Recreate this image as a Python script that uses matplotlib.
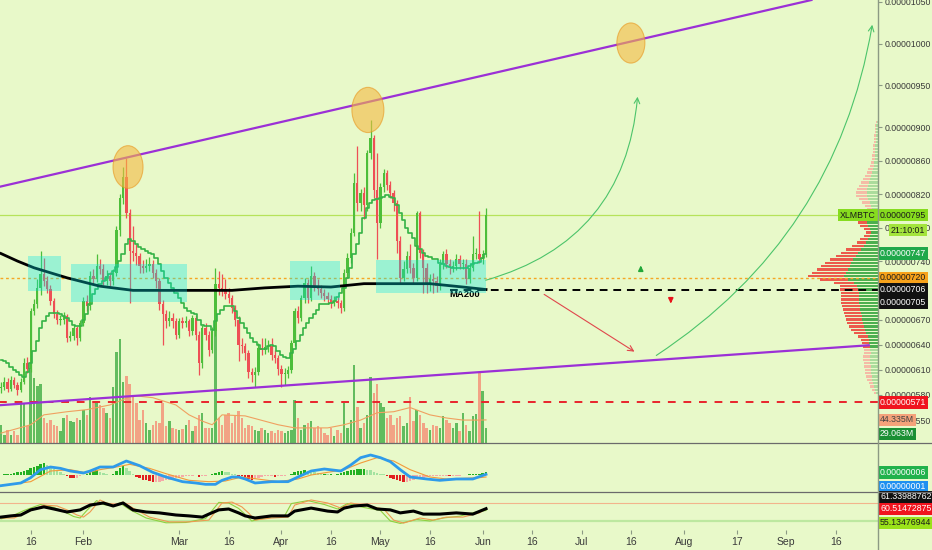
import numpy as np
import pandas as pd
import matplotlib
matplotlib.use("Agg")
import matplotlib.pyplot as plt
import matplotlib.dates as mdates
from matplotlib.patches import Ellipse, Rectangle
from matplotlib.lines import Line2D
from matplotlib.ticker import FuncFormatter

plt.rcParams['font.family'] = ['Liberation Sans', 'DejaVu Sans']

# XLM/BTC daily candles, satoshi units, 2020-01-07 .. 2020-06-02
first_open = 588
close = [590, 596, 587, 598, 592, 586, 596, 618, 611, 680,
         689, 708, 725, 716, 707, 692, 677, 670, 670, 674,
         648, 650, 660, 648, 666, 692, 686, 722, 719, 734,
         731, 716, 722, 716, 726, 777, 815, 840, 798, 752,
         750, 746, 734, 732, 734, 737, 726, 716, 689, 677,
         668, 672, 668, 652, 668, 666, 668, 656, 672, 652,
         618, 660, 652, 634, 656, 713, 708, 704, 701, 696,
         684, 670, 640, 638, 630, 608, 604, 608, 636, 634,
         637, 639, 628, 624, 611, 605, 605, 610, 642, 680,
         672, 696, 714, 696, 722, 710, 707, 702, 698, 695,
         690, 692, 690, 684, 726, 744, 774, 833, 809, 821,
         807, 869, 887, 825, 786, 828, 845, 831, 821, 809,
         764, 720, 731, 746, 732, 720, 798, 750, 732, 713,
         719, 716, 710, 737, 749, 737, 732, 734, 743, 737,
         737, 719, 732, 749, 749, 743, 749, 795]
high = [596, 601, 600, 603, 601, 595, 600, 624, 625, 684,
        695, 718, 752, 744, 722, 712, 696, 681, 676, 679,
        677, 656, 664, 663, 670, 697, 699, 728, 730, 748,
        742, 737, 729, 727, 731, 782, 820, 852, 863, 802,
        782, 761, 750, 741, 742, 745, 741, 730, 720, 694,
        681, 680, 678, 672, 672, 673, 674, 671, 676, 676,
        656, 664, 666, 657, 661, 732, 728, 725, 718, 708,
        700, 688, 674, 648, 642, 634, 612, 613, 642, 648,
        648, 646, 648, 634, 628, 616, 612, 615, 646, 684,
        686, 700, 720, 718, 734, 727, 718, 712, 707, 703,
        699, 698, 697, 694, 730, 750, 780, 845, 877, 826,
        828, 873, 909, 891, 869, 833, 850, 849, 836, 825,
        813, 770, 740, 752, 761, 738, 800, 800, 754, 738,
        724, 726, 722, 742, 752, 754, 742, 740, 748, 747,
        743, 742, 738, 770, 756, 800, 753, 803]
low = [582, 586, 583, 585, 588, 580, 583, 593, 606, 608,
       675, 684, 700, 710, 702, 688, 672, 665, 664, 665,
       643, 644, 646, 640, 644, 662, 680, 682, 713, 715,
       724, 711, 711, 710, 712, 722, 770, 808, 792, 690,
       740, 735, 726, 726, 727, 728, 720, 708, 682, 640,
       660, 662, 660, 647, 648, 660, 661, 650, 652, 646,
       604, 612, 646, 626, 630, 650, 700, 698, 695, 690,
       678, 663, 620, 630, 622, 600, 596, 590, 604, 628,
       629, 631, 622, 618, 604, 590, 592, 600, 606, 638,
       666, 668, 690, 690, 692, 704, 700, 696, 692, 689,
       684, 686, 684, 678, 680, 720, 738, 770, 800, 800,
       790, 800, 862, 815, 743, 780, 822, 825, 815, 800,
       750, 713, 716, 726, 726, 714, 716, 744, 702, 702,
       704, 702, 703, 705, 730, 732, 725, 727, 729, 731,
       730, 713, 714, 728, 742, 738, 736, 745]
# volume in millions
volume = [34, 15, 25, 15, 23, 15, 76, 76, 32, 143,
          124, 110, 114, 48, 38, 44, 34, 32, 23, 48,
          53, 42, 40, 48, 44, 63, 53, 89, 80, 80,
          72, 67, 57, 48, 108, 175, 200, 118, 129, 114,
          91, 76, 44, 63, 38, 25, 34, 42, 38, 76,
          32, 42, 29, 27, 25, 27, 34, 44, 23, 32,
          53, 57, 29, 29, 29, 219, 48, 34, 53, 57,
          38, 51, 61, 48, 29, 34, 32, 25, 23, 29,
          25, 19, 23, 19, 25, 23, 19, 23, 25, 82,
          48, 25, 34, 38, 42, 29, 32, 29, 19, 15,
          29, 13, 25, 19, 76, 29, 44, 150, 70, 29,
          38, 53, 127, 95, 114, 76, 70, 48, 53, 34,
          48, 51, 32, 38, 89, 42, 63, 53, 38, 29,
          25, 34, 32, 29, 51, 44, 38, 29, 38, 23,
          57, 34, 23, 51, 55, 135, 99, 29]
volma_idx = [0, 9, 13, 20, 26, 33, 40, 46, 53, 57, 61, 64, 67, 74, 84, 89, 99,
             104, 109, 114, 119, 124, 130, 135, 140, 145, 147]
volma_val = [19, 35, 54, 60, 64, 73, 91, 87, 73, 54, 42, 35, 54, 52, 35, 29, 29,
             35, 44, 58, 60, 68, 54, 48, 44, 44, 44.3]

# green trailing step line
step_line = [622, 620, 618, 614, 610, 608, 604, 602, 608, 618,
             632, 644, 660, 668, 674, 678, 678, 678, 677, 674,
             672, 668, 664, 662, 662, 670, 677, 689, 701, 707,
             713, 716, 720, 725, 728, 733, 740, 749, 761, 766,
             764, 761, 757, 755, 752, 750, 748, 744, 737, 728,
             720, 714, 708, 702, 696, 690, 684, 680, 678, 677,
             670, 664, 663, 662, 658, 668, 677, 682, 686, 686,
             686, 680, 672, 666, 660, 654, 648, 643, 640, 635,
             635, 638, 640, 638, 632, 628, 625, 624, 630, 635,
             644, 652, 660, 666, 672, 677, 682, 689, 689, 689,
             690, 692, 697, 702, 708, 720, 732, 749, 761, 774,
             791, 803, 810, 813, 814, 815, 816, 819, 817, 815,
             807, 797, 789, 780, 773, 767, 758, 755, 750, 746,
             745, 743, 742, 738, 737, 734, 733, 732, 732, 732,
             732, 732, 734, 737, 738, 739, 744, 749]
ma200_idx = [0, 5, 10, 20, 30, 40, 50, 60, 70, 80, 90, 100, 110, 120, 130, 140, 147]
ma200_val = [749, 740, 732, 720, 710, 705, 705, 705, 705, 708, 710, 709, 713, 713, 713, 709, 706]

# MACD pane (satoshi)
macd_idx = [0, 6, 9, 12, 15, 18, 21, 25, 27, 30, 34, 38, 42, 46, 50, 55, 59, 62, 65, 67, 70,
            72, 74, 77, 82, 87, 90, 94, 98, 103, 106, 109, 112, 115, 118, 121, 124, 129,
            133, 138, 143, 147]
macd_val = [-16, -12, -4, 8, 12, 10, 6, 3, 6, 12, 12, 21, 14, 4, -3, -10, -12, -14, -14, -8, -3,
            -3, -6, -12, -10, -10, -3, 6, 9, 6, 15, 26, 30, 26, 20, 8, -3, -6,
            -8, -6, -6, 1]
sig_idx = [0, 9, 15, 21, 26, 30, 35, 39, 45, 50, 57, 63, 68, 73, 84, 90, 94, 99, 104, 109,
           114, 119, 124, 130, 135, 145, 147]
sig_val = [-16, -10, 6, 8, 3, 8, 12, 16, 10, 2, -8, -10, -9, -3, -10, -6, 0, 4, 8, 18,
           26, 21, 8, -3, -6, -4, -3]
hist = [0.5, 1, 1, 2, 3, 4, 5, 6, 8, 10, 12, 14, 16, 18, 15, 12, 9, 6, 4, 2,
        -2, -4, -5, -4, -2, 0, 2, 4, 6, 7, 5, 3, 1, 0, 2, 6, 10, 14, 11, 6,
        2, -3, -5, -7, -8, -9, -10, -10, -10, -9, -8, -7, -6, -5, -4, -3, -2, -1, -1, 0,
        -3, -2, -1, 0, 1, 3, 5, 6, 5, 4, 2, 1, -1, -2, -4, -6, -7, -6, -4, -3,
        -2, -2, -1, -3, -2, -1, -1, 0, 2, 4, 6, 6, 7, 6, 5, 4, 3, 2, 2, 1,
        1, 0, 1, 3, 5, 6, 7, 8, 9, 9, 9, 8, 7, 5, 3, 2, 1, -2, -4, -6,
        -8, -9, -10, -10, -9, -8, -6, -5, -4, -3, -2, -2, -1, -1, -1, -1, -2, -1, -1, -1,
        0, 0, 1, 1, 2, 2, 3, 4]

# oscillator pane
rsi_idx = [0, 3, 6, 9, 13, 16, 20, 24, 27, 31, 34, 37, 40, 44, 48, 53, 57, 61, 63, 66, 69,
           72, 74, 77, 82, 87, 89, 94, 99, 102, 104, 107, 111, 114, 118, 121, 125, 128,
           133, 138, 143, 147]
rsi_val = [33, 37, 40, 57, 67, 60, 50, 57, 73, 80, 70, 80, 57, 50, 47, 40, 37, 33, 43, 57, 60,
           47, 37, 30, 37, 37, 53, 63, 53, 50, 63, 70, 73, 60, 57, 47, 53, 43,
           43, 47, 43, 61]
k_idx = [0, 4, 8, 13, 17, 20, 23, 25, 27, 30, 32, 35, 37, 40, 45, 51, 57, 63, 67, 70,
         73, 75, 77, 82, 87, 89, 94, 99, 103, 106, 111, 116, 119, 122, 127, 131, 135,
         140, 145, 147]
k_val = [30, 30, 50, 73, 70, 57, 40, 33, 50, 90, 80, 73, 83, 63, 33, 17, 17, 23, 80, 83,
         67, 47, 23, 30, 33, 73, 90, 80, 63, 80, 70, 60, 23, 13, 30, 23, 33,
         33, 47, 60.5]
d_idx = [0, 3, 7, 12, 16, 19, 22, 24, 26, 29, 31, 34, 36, 39, 44, 50, 56, 62, 66, 69,
         72, 74, 76, 81, 86, 88, 93, 98, 102, 105, 110, 115, 118, 121, 126, 130, 134,
         139, 144, 147]
d_val = [27, 35, 55, 75, 65, 52, 35, 30, 55, 88, 75, 70, 80, 58, 30, 14, 15, 28, 82, 80,
         62, 42, 20, 33, 38, 78, 88, 75, 60, 78, 65, 55, 20, 12, 25, 20, 30,
         36, 50, 55]

# visible range volume profile, 4 sat rows from 582 to 906
prof_price = np.arange(582, 907, 4)
prof_total = [4, 6, 8, 9, 11, 12, 13, 13, 14, 14, 15, 15, 14, 14, 15, 16, 17, 20, 24, 27,
              29, 31, 32, 33, 34, 35, 36, 37, 37, 37, 37, 38, 38, 44, 58, 70, 66, 61, 57, 53,
              48, 42, 37, 32, 26, 21, 18, 14, 12, 14, 18, 20, 17, 14, 12, 11, 13, 16, 19, 22,
              22, 21, 19, 17, 15, 13, 11, 10, 8, 7, 6, 6, 5, 5, 5, 4, 4, 4, 3, 3,
              3, 2]
prof_up = [2, 3, 4, 5, 6, 6, 7, 7, 7, 8, 8, 8, 7, 8, 8, 9, 9, 10, 12, 13,
           14, 15, 16, 16, 17, 18, 18, 19, 19, 19, 19, 20, 21, 24, 30, 34, 32, 30, 28, 27,
           25, 22, 20, 17, 14, 12, 10, 8, 7, 8, 10, 11, 9, 8, 7, 6, 7, 8, 10, 11,
           11, 11, 10, 9, 8, 7, 6, 5, 4, 4, 3, 3, 3, 3, 3, 2, 2, 2, 2, 2,
           2, 1]

tick_days = ['2020-01-16', '2020-02-01', '2020-03-01', '2020-03-16', '2020-04-01', '2020-04-16',
             '2020-05-01', '2020-05-16', '2020-06-01', '2020-06-16', '2020-07-01', '2020-07-16',
             '2020-08-01', '2020-08-17', '2020-09-01', '2020-09-16']
tick_text = ['16', 'Feb', 'Mar', '16', 'Apr', '16', 'May', '16', 'Jun', '16', 'Jul', '16',
             'Aug', '17', 'Sep', '16']
price_ticks = [550, 580, 610, 640, 670, 740, 780, 820, 860, 900, 950, 1000, 1050]

dates = pd.date_range('2020-01-07', periods=len(close), freq='D')
xs = mdates.date2num(dates)
t0 = xs[0]
opens = np.array([first_open] + close[:-1])
c = np.array(close)
up = c >= opens

bg = '#E8F9C9'
W, H = 932, 550
FS = 6.3


def pane(top, bottom, right=878):
    return [0, 1 - bottom / H, right / W, (bottom - top) / H]


fig = plt.figure(figsize=(W / 100, H / 100), dpi=100, facecolor=bg)
ax_v = fig.add_axes(pane(0, 443), zorder=1)
ax_p = fig.add_axes(pane(0, 443), zorder=2)
ax = fig.add_axes(pane(0, 443), zorder=3)
ax_m = fig.add_axes(pane(443, 492), zorder=3)
ax_s = fig.add_axes(pane(492, 530), zorder=3)
for a in (ax_v, ax_p, ax, ax_m, ax_s):
    a.patch.set_visible(False)
    for s in a.spines.values():
        s.set_visible(False)
    a.set_xlim(t0 - 0.3, t0 + 265.8)
ax_v.axis('off')
ax_p.axis('off')

# volume
ax_v.bar(xs, volume, width=0.75, color=np.where(up, '#62BC5E', '#F2A385'), linewidth=0)
ax_v.plot(t0 + np.array(volma_idx), volma_val, color='#F0A060', lw=0.8)
ax_v.set_ylim(0, 850)

# volume profile
ymin, ymax = 522.6, 1052.0
in_va = (prof_price >= 638) & (prof_price <= 790)
ax_p.barh(prof_price, prof_total, height=2.8, left=0,
          color=np.where(in_va, '#EC5A4C', '#F5BBA6'), linewidth=0)
ax_p.barh(prof_price, prof_up, height=2.8, left=0,
          color=np.where(in_va, '#4CAF50', '#ABDC9C'), linewidth=0)
ax_p.set_xlim(878, 0)
ax_p.set_ylim(ymin, ymax)

# main pane
ax.set_ylim(ymin, ymax)
ax.axhline(795, color='#B6E35A', lw=0.9, zorder=2)
ax.axhline(720, color='#F5A623', lw=1, ls=(0, (2, 2)), zorder=2)
ax.hlines(571, t0 - 1, t0 + 270, color='#E8242C', lw=1.4, ls=(0, (4, 4)), zorder=2)
ax.hlines(706, t0 + 136, t0 + 270, color='black', lw=1.4, ls=(0, (4, 3)), zorder=2)

col = np.where(up, '#4DBE3A', '#EE4F55')
ax.vlines(xs, low, high, colors=col, lw=0.9, zorder=3)
ax.bar(xs, np.maximum(np.abs(c - opens), 1.2), bottom=np.minimum(opens, c), width=0.7,
       color=col, linewidth=0, zorder=4)
ax.plot(xs, step_line, drawstyle='steps-mid', color='#34B346', lw=1.2, zorder=5)
ax.plot(t0 + np.array(ma200_idx), ma200_val, color='black', lw=2, zorder=5)
ax.text(t0 + 140.5, 700.5, 'MA200', fontsize=6.8, fontweight='bold',
        ha='center', va='center', zorder=6)

for d0, d1, p0, p1 in [(8.2, 18.2, 704, 746), (21.2, 56.4, 691, 736.5),
                       (87.6, 102.7, 693.5, 740), (113.6, 147, 702, 741)]:
    ax.add_patch(Rectangle((t0 + d0, p0), d1 - d0, p1 - p0, fc='#00E5E5', alpha=0.33,
                           ec='none', zorder=6))

ax.axline((t0 - 0.3, 828.9), (t0 + 242.1, 1048.8), color='#9B30D6', lw=1.6, zorder=6)
ax.plot([t0 - 1, t0 + 263], [567.6, 639.4], color='#9B30D6', lw=1.6, zorder=6)

for dx, py, w, h in [(38.5, 852.4, 9.1, 51), (111.2, 920.6, 9.7, 54), (190.9, 1000.6, 8.5, 48)]:
    ax.add_patch(Ellipse((t0 + dx, py), w, h, fc='#F5B942', alpha=0.6, ec='#E8961E',
                         lw=0.8, zorder=7))

ax.annotate('', xy=(t0 + 193, 939.7), xytext=(t0 + 146.1, 716.2),
            arrowprops=dict(arrowstyle='->', color='#4CC46A', lw=0.8,
                            connectionstyle='arc3,rad=0.35'), zorder=7)
ax.annotate('', xy=(t0 + 264.2, 1025.7), xytext=(t0 + 197.9, 625.4),
            arrowprops=dict(arrowstyle='->', color='#4CC46A', lw=0.8,
                            connectionstyle='arc3,rad=0.22'), zorder=7)
ax.annotate('', xy=(t0 + 192.7, 630), xytext=(t0 + 163.9, 702),
            arrowprops=dict(arrowstyle='->', color='#E0474C', lw=0.8), zorder=7)
ax.annotate('', xy=(t0 + 193.9, 738), xytext=(t0 + 193.9, 727),
            arrowprops=dict(arrowstyle='-|>', color='#22A83A', lw=1.2, mutation_scale=7), zorder=7)
ax.annotate('', xy=(t0 + 203, 686), xytext=(t0 + 203, 697),
            arrowprops=dict(arrowstyle='-|>', color='#E8141B', lw=1.2, mutation_scale=7), zorder=7)

ax.set_xticks([])
ax.yaxis.tick_right()
ax.set_yticks(price_ticks)
ax.yaxis.set_major_formatter(FuncFormatter(lambda v, _: f'{v * 1e-8:.8f}'))
ax.tick_params(axis='y', labelsize=FS, labelcolor='#3A3A3A', color='#8C9A84', length=3, pad=2)


def tag(a, y, text, fc, tc='white', dx=1.5, dy=0, trans=None, ha='left'):
    a.annotate(text, xy=(1, y), xycoords=trans or a.get_yaxis_transform(),
               xytext=(dx, dy), textcoords='offset points', ha=ha, va='center',
               fontsize=FS, color=tc, annotation_clip=False, zorder=10,
               bbox=dict(boxstyle='square,pad=0.2', fc=fc, ec='none'))


tag(ax, close[-1], 'XLMBTC', '#86DC1E', '#1A1A1A', dx=-1.5, ha='right')
tag(ax, close[-1], '0.00000795', '#86DC1E', '#1A1A1A')
tag(ax, close[-1], '21:10:01', '#A3E43C', '#1A1A1A', dx=9, dy=-10.8)
tag(ax, step_line[-1], '0.00000747', '#1FA84A')
tag(ax, 720, '0.00000720', '#F7A21B', '#1A1A1A')
tag(ax, 706, '0.00000706', '#111111')
tag(ax, ma200_val[-1], '0.00000705', '#111111', dy=-9.4)
tag(ax, 571, '0.00000571', '#F0141E')
tag(ax, volma_val[-1], '44.335M', '#F4A27A', '#444444', trans=ax_v.get_yaxis_transform())
tag(ax, volume[-1], '29.063M', '#1A8F34', dy=-4.3, trans=ax_v.get_yaxis_transform())

# MACD pane
hv = np.array(hist)
prev = np.r_[hv[0], hv[:-1]]
hcol = np.where(hv >= 0, np.where(hv >= prev, '#22B022', '#A3E3A0'),
                np.where(hv < prev, '#E21E1E', '#F5AAA8'))
ax_m.bar(xs, hv, width=0.75, color=hcol, linewidth=0)
ax_m.plot(t0 + np.array(sig_idx), sig_val, color='#F39A3A', lw=0.8)
ax_m.plot(t0 + np.array(macd_idx), macd_val, color='#2E9BEA', lw=2)
ax_m.set_ylim(-25.5, 48)
ax_m.set_xticks([])
ax_m.set_yticks([])
tag(ax_m, hist[-1], '0.00000006', '#21B24C')
tag(ax_m, macd_val[-1], '0.00000001', '#1E90F0', dy=-9)

# oscillator pane
ax_s.axhline(80, color='#F2B48C', lw=0.8)
ax_s.axhline(20, color='#BDE8A0', lw=1.6)
ax_s.plot(t0 + np.array(d_idx), d_val, color='#8ED040', lw=0.8)
ax_s.plot(t0 + np.array(k_idx), k_val, color='#EE9A50', lw=0.8)
ax_s.plot(t0 + np.array(rsi_idx), rsi_val, color='black', lw=2.2)
ax_s.set_ylim(-10, 116.6)
ax_s.set_yticks([])
ax_s.set_xticks(mdates.date2num(pd.to_datetime(tick_days)))
ax_s.set_xticklabels(tick_text)
ax_s.tick_params(axis='x', labelsize=7.5, labelcolor='#3A3A3A', color='#8C9A84', length=3, pad=2)
tag(ax_s, k_val[-1], '60.51472875', '#F0141E')
tag(ax_s, rsi_val[-1], '61.33988762', '#111111', dy=8.5)
tag(ax_s, d_val[-1], '55.13476944', '#9BE21A', '#1A1A1A', dy=-9)

# pane separators and price scale line
for yy in (443, 492):
    fig.add_artist(Line2D([0, 1], [1 - yy / H] * 2, color='#6B6B6B', lw=0.9, zorder=4))
fig.add_artist(Line2D([878 / W] * 2, [0, 1], color='#8C9A84', lw=1, zorder=4))

fig.savefig('out.png', dpi=100, facecolor=bg)
